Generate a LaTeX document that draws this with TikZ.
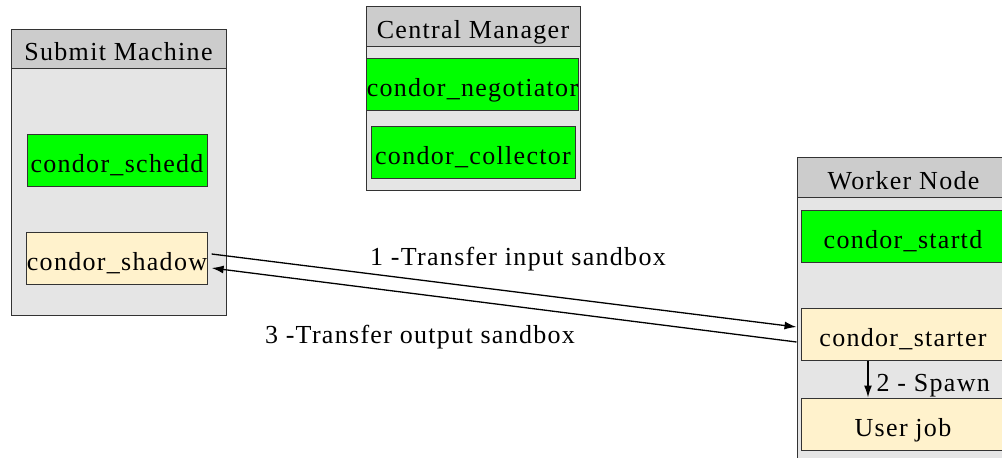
\documentclass[tikz,border=0pt]{standalone}
\usepackage{fontspec}
\setmainfont{Liberation Serif}[LetterSpace=5]
\usepackage{tikz}
\usetikzlibrary{arrows,arrows.meta}
\tikzset{>={Latex[length=12pt,width=8pt]}}
\definecolor{hdgray}{HTML}{CCCCCC}
\definecolor{bodygray}{HTML}{E5E5E5}
\definecolor{daemon}{HTML}{00FF00}
\definecolor{jobcream}{HTML}{FFF2CC}
\definecolor{edge}{HTML}{333333}

\begin{document}
\begin{tikzpicture}[x=1pt,y=-1pt,
    txt/.style={font=\fontsize{26}{30}\selectfont,text height=24pt,text depth=0pt,inner sep=0pt},
    box/.style={txt,draw=edge,line width=1pt,minimum height=52pt},
    daemonbox/.style={box,fill=daemon},
    jobbox/.style={box,fill=jobcream},
    flow/.style={->,line width=1.3pt}]
       \useasboundingbox (0,0) rectangle (1002,458);
       % submit machine
       \filldraw[draw=edge,fill=bodygray] (11,29) rectangle (226,315);
       \filldraw[draw=edge,fill=hdgray] (11,29) rectangle (226,68);
       \node[txt] (submit) at (118.5,48.5) {Submit Machine};
       \node[daemonbox,minimum width=180pt] (schedd) at (117,160) {condor\_schedd};
       \node[jobbox,minimum width=180pt] (shadow) at (117,258) {condor\_shadow};
       % central manager
       \filldraw[draw=edge,fill=bodygray] (366,6) rectangle (580,190);
       \filldraw[draw=edge,fill=hdgray] (366,6) rectangle (580,46);
       \node[txt] (central) at (473,26) {Central Manager};
       \node[daemonbox,minimum width=203pt] (negotiator) at (472.5,84.5) {condor\_negotiator};
       \node[daemonbox,minimum width=204pt] (collector) at (473,152.5) {condor\_collector};
       % worker node
       \filldraw[draw=edge,fill=bodygray] (797,157) rectangle (1010,470);
       \filldraw[draw=edge,fill=hdgray] (797,157) rectangle (1010,197);
       \node[txt] (worker) at (903.5,177) {Worker Node};
       \node[daemonbox,minimum width=204pt] (startd) at (903,236) {condor\_startd};
       \node[jobbox,minimum width=204pt] (starter) at (903,334) {condor\_starter};
       \node[jobbox,minimum width=204pt] (userjob) at (903,424) {User job};
       % transfers
       \draw[flow] ([xshift=4pt,yshift=4pt]shadow.east) -- ([xshift=-4pt,yshift=7pt]starter.west);
       \draw[flow] ([xshift=-4pt,yshift=-8pt]starter.west) -- ([xshift=4pt,yshift=-10pt]shadow.east);
       \node[txt] (inlabel) at (518,253) {1 -Transfer input sandbox};
       \node[txt] (outlabel) at (420,331) {3 -Transfer output sandbox};
       \draw[flow] ([xshift=-35pt]starter.south) -- node[txt,right,xshift=8pt]{2 - Spawn} ([xshift=-35pt]userjob.north);
      \end{tikzpicture}
\end{document}
